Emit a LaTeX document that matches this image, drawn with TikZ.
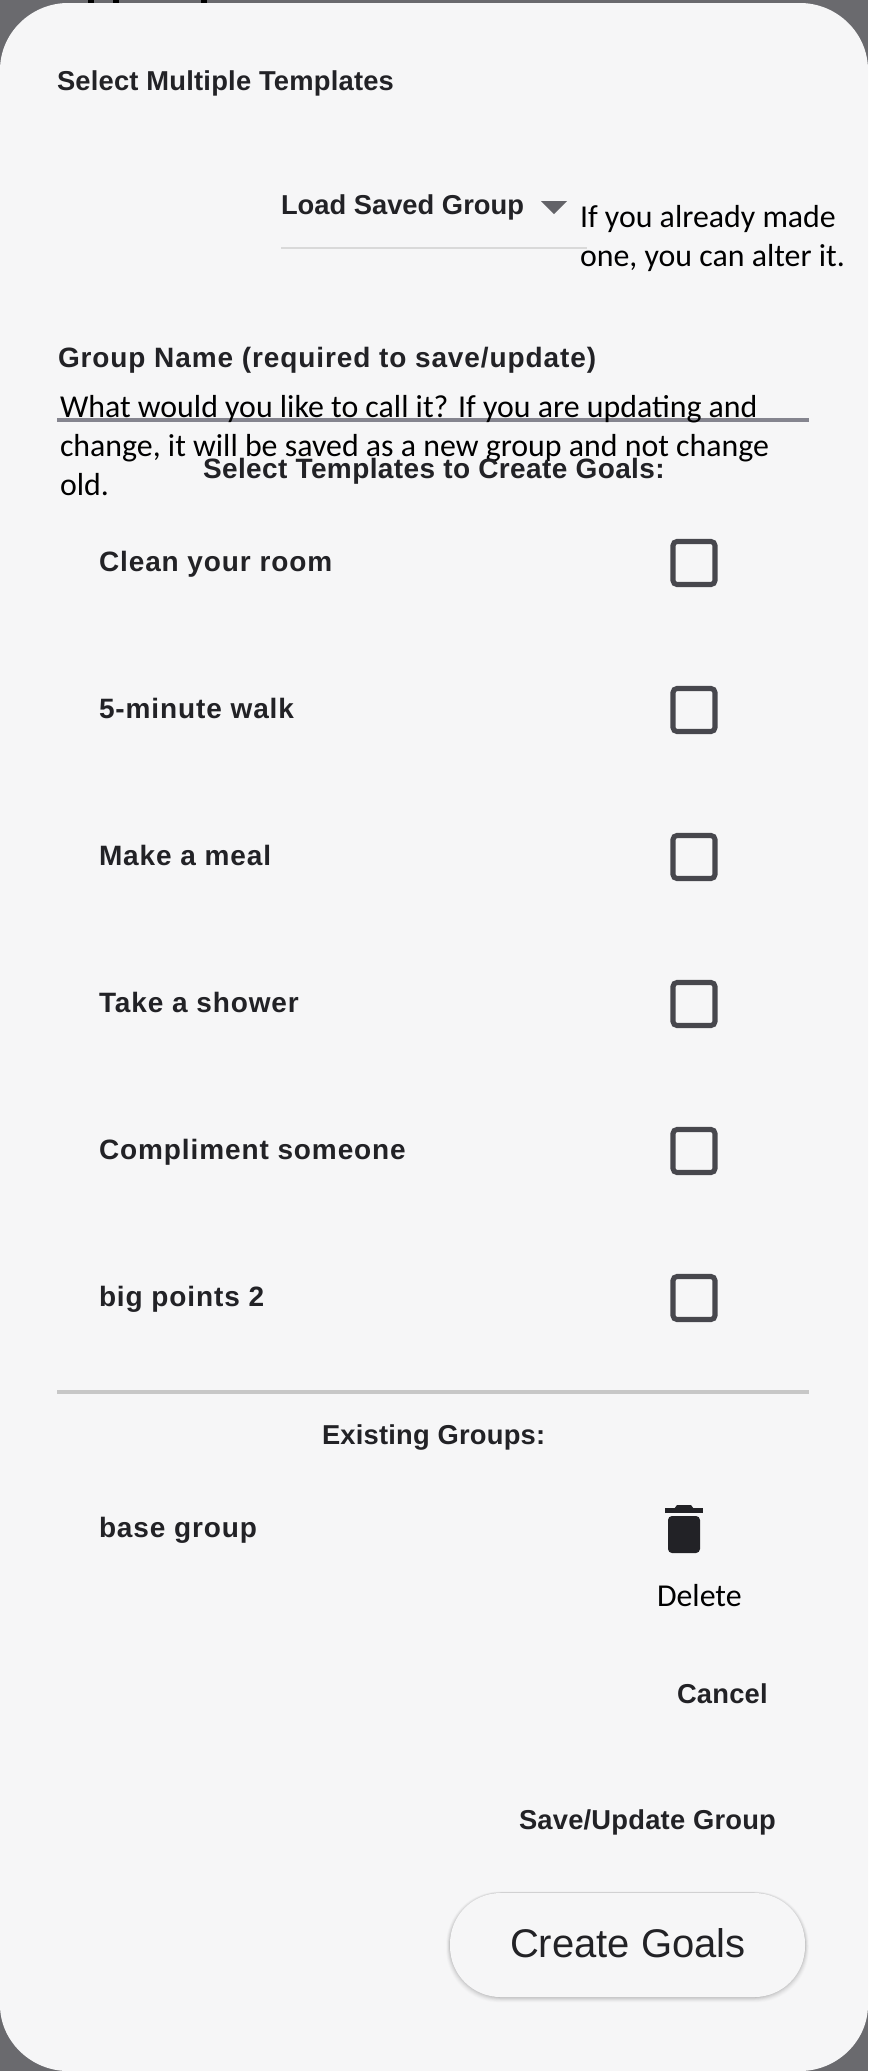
\documentclass[tikz,border=0pt]{standalone}
\usepackage{fontspec}
\setmainfont{Liberation Sans}
\newfontfamily\robn{Liberation Sans}
\newfontfamily\robm{Liberation Sans}[LetterSpace=0.8]
\newfontfamily\robs{Liberation Sans}[LetterSpace=1.4]
\newfontfamily\robw{Liberation Sans}[LetterSpace=3.2]
\newfontfamily\calib{Carlito}
\definecolor{card}{HTML}{F6F6F7}
\definecolor{scrim}{HTML}{6A6A6E}
\definecolor{ink}{HTML}{222226}
\definecolor{boxc}{HTML}{47474D}
\definecolor{fieldline}{HTML}{85858F}
\tikzset{
  x=0.75pt,y=-0.75pt,
  lab/.style={inner sep=0pt,outer sep=0pt,anchor=base west,text=ink,font=\robm\bfseries\fontsize{20.5}{24}\selectfont},
  row/.style={lab,font=\robw\bfseries\fontsize{21}{24}\selectfont},
  note/.style={inner sep=0pt,outer sep=0pt,anchor=base west,text=black,font=\calib\fontsize{23.9}{29}\selectfont},
  rule/.style={line width=2.3pt},
}
\begin{document}
\begin{tikzpicture}
\useasboundingbox (0,0) rectangle (868,2071);
\fill[scrim] (0,0) rectangle (868,2071);
\foreach \a in {88,113,201}{\fill[black] (\a,0) rectangle (\a+6,3);}
\fill[card] (0,70) .. controls (0,33) and (31,3) .. (68,3) -- (800,3)
  .. controls (837,3) and (868,33) .. (868,70) -- (868,2005)
  .. controls (868,2041) and (837,2071) .. (800,2071) -- (68,2071)
  .. controls (31,2071) and (0,2041) .. (0,2005) -- cycle;
\node[lab] (title) at (57,90) {Select Multiple Templates};
\node[lab,font=\robn\bfseries\fontsize{20.5}{24}\selectfont] (load) at (281,214) {Load Saved Group};
\fill[boxc!85] (541,201) -- (567,201) -- (554,214) -- cycle;
\coordinate (ddl) at (281,248); \coordinate (ddr) at (587,248);
\draw[draw=black!15,line width=1.6pt] (ddl) -- (ddr);
\node[note] (hint1) at (580,227) {If you already made};
\node[note] (hint2) at (580,266) {one, you can alter it.};
\node[row] (gname) at (58,367) {Group Name (required to save/update)};
\coordinate (gl) at (57,420); \coordinate (gr) at (809,420);
\draw[rule,draw=fieldline] (gl) -- (gr);
\node[note] (w1) at (60,417) {What would you like to call it? If you are updating and};
\node[note] (w2) at (60,456) {change, it will be saved as a new group and not change};
\node[note] (w3) at (60,495) {old.};
\node[lab,font=\robs\bfseries\fontsize{21}{24}\selectfont] (sel) at (203,478) {Select Templates to Create Goals:};
\node[row] (r1) at (99,571.5) {Clean your room};
\node[row] (r2) at (99,718.5) {5-minute walk};
\node[row] (r3) at (99,865.5) {Make a meal};
\node[row] (r4) at (99,1012.5) {Take a shower};
\node[row] (r5) at (99,1159.5) {Compliment someone};
\node[row] (r6) at (99,1306.5) {big points 2};
\foreach \y in {563,710,857,1004,1151,1298}{
  \draw[boxc,line width=3.8pt,rounded corners=3pt] (673,\y-21.5) rectangle (715,\y+21.5);
}
\coordinate (dl) at (57,1392); \coordinate (dr) at (809,1392);
\draw[rule,draw=black!22] (dl) -- (dr);
\node[lab] (ex) at (322,1444) {Existing Groups:};
\node[row] (bg) at (99,1537.5) {base group};
\fill[ink,rounded corners=3pt] (668,1516) -- (700,1516) -- (700,1553) -- (668,1553) -- cycle;
\fill[ink] (665,1508) rectangle (703,1513);
\fill[ink] (674,1509) -- (677,1505) -- (691,1505) -- (694,1509) -- cycle;
\node[note] (del) at (657,1606) {Delete};
\node[lab] (can) at (677,1703) {Cancel};
\node[lab] (sav) at (519,1829) {Save/Update Group};
\foreach \o/\a in {8/0.01,7/0.014,6/0.018,5/0.022,4/0.028,3/0.035,2/0.045,1/0.055}{
  \fill[black,opacity=\a,rounded corners=40pt] (450-\o*0.5,1893-\o*0.2) rectangle (805+\o*0.5,1997+\o*0.7);
}
\node[fill=card,rounded corners=38pt,minimum width=266.25pt,minimum height=78pt,inner sep=0pt] (btn) at (627.5,1945) {};
\node[lab,font=\robn\fontsize{30}{36}\selectfont] (cg) at (510,1957) {Create Goals};
\end{tikzpicture}
\end{document}
